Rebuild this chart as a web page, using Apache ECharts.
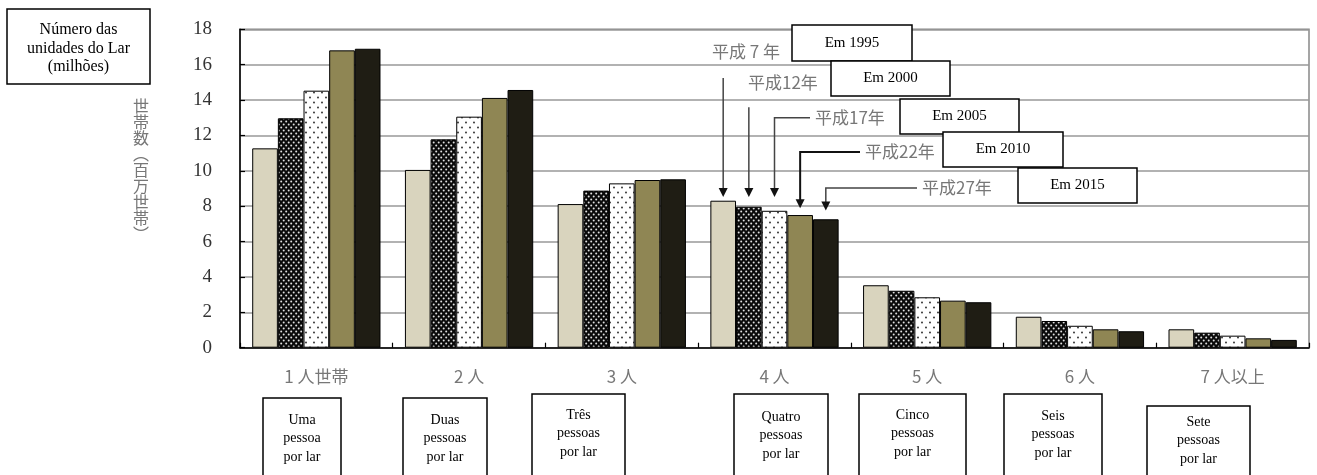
<!DOCTYPE html>
<html><head><meta charset="utf-8">
<script src="https://cdn.jsdelivr.net/npm/echarts@6/dist/echarts.min.js"></script>
<style>html,body{margin:0;padding:0;background:#fff}#c{width:1317px;height:475px}</style>
</head><body><div id="c"></div>
<script>
const categories = ['1 人世帯', '2 人', '3 人', '4 人', '5 人', '6 人', '7 人以上'];
const yearsJa = ['平成 7 年', '平成12年', '平成17年', '平成22年', '平成27年'];
const yearsPt = ['Em 1995', 'Em 2000', 'Em 2005', 'Em 2010', 'Em 2015'];
const h1995 = [11.27, 10.05, 8.12, 8.31, 3.53, 1.75, 1.04];
const h2000 = [12.97, 11.78, 8.88, 7.97, 3.22, 1.51, 0.85];
const h2005 = [14.53, 13.06, 9.29, 7.74, 2.85, 1.24, 0.68];
const h2010 = [16.81, 14.12, 9.48, 7.50, 2.66, 1.04, 0.53];
const h2015 = [16.90, 14.57, 9.52, 7.26, 2.57, 0.93, 0.44];
const yTicks = [0, 2, 4, 6, 8, 10, 12, 14, 16, 18];
const yName = '世帯数︵百万世帯︶';
const yNamePt = 'Número das\nunidades do Lar\n(milhões)';
const catLabelsPt = [
  'Uma\npessoa\npor lar', 'Duas\npessoas\npor lar', 'Três\npessoas\npor lar',
  'Quatro\npessoas\npor lar', 'Cinco\npessoas\npor lar', 'Seis\npessoas\npor lar',
  'Sete\npessoas\npor lar'
];
// annotation arrow tip / start levels (in data units, y-axis)
const arrowTip = [8.52, 8.52, 8.52, 7.88, 7.76];
const arrowStart = [15.25, 13.6, 13.0, 11.07, 9.03];

function pattern(bg, dot, w, h, pts, r) {
  const c = document.createElement('canvas');
  c.width = w; c.height = h;
  const g = c.getContext('2d');
  g.fillStyle = bg; g.fillRect(0, 0, w, h);
  g.fillStyle = dot;
  pts.forEach(p => { g.beginPath(); g.arc(p[0], p[1], r, 0, Math.PI * 2); g.fill(); });
  return c;
}
const patDense = pattern('#0a0a0a', '#e0e0e0', 5, 6, [[1.2, 1.5], [3.7, 4.5]], 1.0);
const patSparse = pattern('#ffffff', '#222222', 8, 10, [[2, 2.5], [6, 7.5]], 0.9);

const fills = [
  '#d9d4be',
  { image: patDense, repeat: 'repeat' },
  { image: patSparse, repeat: 'repeat' },
  '#8f8654',
  '#1f1d14'
];
const seriesData = [h1995, h2000, h2005, h2010, h2015];

const chart = echarts.init(document.getElementById('c'), null, { renderer: 'canvas' });
const GRID = { left: 240, top: 29.3, right: 8, bottom: 127.3 };
chart.setOption({
  animation: false,
  backgroundColor: '#fff',
  grid: Object.assign({ show: true, borderColor: '#888', borderWidth: 1.5, backgroundColor: 'transparent' }, GRID),
  xAxis: {
    type: 'category', data: categories,
    axisLine: { show: true, lineStyle: { color: '#000', width: 1.5 } },
    axisTick: { show: true, inside: true, length: 5, lineStyle: { color: '#000', width: 1.2 } },
    axisLabel: { margin: 20, color: '#777', fontSize: 17, fontFamily: 'Noto Sans CJK JP' },
    splitLine: { show: false }
  },
  yAxis: {
    type: 'value', min: yTicks[0], max: yTicks[yTicks.length - 1], interval: 2,
    axisLine: { show: true, lineStyle: { color: '#000', width: 1.5 } },
    axisTick: { show: true, inside: true, length: 5, lineStyle: { color: '#000', width: 1.2 } },
    axisLabel: { margin: 28, color: '#333', fontSize: 19, fontFamily: 'Liberation Serif' },
    splitLine: { show: true, lineStyle: { color: '#999', width: 1.5 } }
  },
  series: seriesData.map((d, i) => ({
    type: 'bar', name: yearsPt[i], data: d,
    barGap: '0%', barCategoryGap: '16%',
    itemStyle: { color: fills[i], borderColor: '#000', borderWidth: 1 },
    emphasis: { disabled: true }
  }))
});

// --- annotations ---
const cx3 = chart.convertToPixel({ xAxisIndex: 0 }, 3);
const cx4 = chart.convertToPixel({ xAxisIndex: 0 }, 4);
const band = cx4 - cx3;
const groupW = band * 0.84;
const barW = groupW / 5;
const barCenter = i => cx3 - groupW / 2 + barW * (i + 0.5);
const yPx = v => chart.convertToPixel({ yAxisIndex: 0 }, v);

const jaTextPos = [[712, 52], [748, 83], [815, 118], [865, 152], [922, 188]];
const ptBoxes = [[792, 25, 120, 36], [831, 61, 119, 35], [900, 99, 119, 35], [943, 132, 120, 35], [1018, 168, 119, 35]];
const bottomBoxes = [[263, 398, 78, 420], [403, 398, 84, 420], [532, 394, 93, 415], [734, 394, 94, 417], [859, 394, 107, 415], [1004, 394, 98, 416], [1147, 406, 103, 422]];
const serif = 'Liberation Serif';
const g = [];

// top-left box
g.push({ type: 'rect', shape: { x: 7, y: 9, width: 143, height: 75 }, style: { fill: '#fff', stroke: '#000', lineWidth: 1.5 }, z: 10 });
g.push({ type: 'text', x: 78.5, y: 48.5, style: { text: yNamePt, font: '16px "' + serif + '"', fill: '#000', textAlign: 'center', textVerticalAlign: 'middle', verticalAlign: 'middle', lineHeight: 18.5 }, z: 11 });
// vertical Japanese axis name
g.push({ type: 'text', x: 141, y: 98, style: { text: yName.split('').join('\n'), font: '16px "Noto Sans CJK JP"', fill: '#777', textAlign: 'center', textVerticalAlign: 'top', verticalAlign: 'top', lineHeight: 16 }, z: 11 });

for (let i = 0; i < 5; i++) {
  const x = barCenter(i);
  const tip = yPx(arrowTip[i]);
  const st = yPx(arrowStart[i]);
  const col = i === 3 ? '#111' : '#444';
  const lw = i === 3 ? 2 : 1.5;
  if (i >= 2) {
    g.push({ type: 'polyline', shape: { points: [[jaTextPos[i][0] - 5, st], [x, st], [x, tip - 8]] }, style: { stroke: col, lineWidth: lw, fill: null }, z: 10 });
  } else {
    g.push({ type: 'line', shape: { x1: x, y1: st, x2: x, y2: tip - 8 }, style: { stroke: col, lineWidth: lw }, z: 10 });
  }
  g.push({ type: 'polygon', shape: { points: [[x - 4.5, tip - 9], [x + 4.5, tip - 9], [x, tip]] }, style: { fill: '#111' }, z: 10 });
  g.push({ type: 'text', x: jaTextPos[i][0], y: jaTextPos[i][1], style: { text: yearsJa[i], font: '17px "Noto Sans CJK JP"', fill: '#777', textAlign: 'left', textVerticalAlign: 'middle', verticalAlign: 'middle' }, z: 11 });
  const b = ptBoxes[i];
  g.push({ type: 'rect', shape: { x: b[0], y: b[1], width: b[2], height: b[3] }, style: { fill: '#fff', stroke: '#000', lineWidth: 1.5 }, z: 12 + i });
  g.push({ type: 'text', x: b[0] + b[2] / 2, y: b[1] + b[3] / 2, style: { text: yearsPt[i], font: '15px "' + serif + '"', fill: '#000', textAlign: 'center', textVerticalAlign: 'middle', verticalAlign: 'middle' }, z: 12 + i });
}

bottomBoxes.forEach((b, i) => {
  g.push({ type: 'rect', shape: { x: b[0], y: b[1], width: b[2], height: 100 }, style: { fill: '#fff', stroke: '#000', lineWidth: 1.5 }, z: 10 });
  g.push({ type: 'text', x: b[0] + b[2] / 2, y: b[3] + 18.5, style: { text: catLabelsPt[i], font: '14px "' + serif + '"', fill: '#000', textAlign: 'center', textVerticalAlign: 'middle', verticalAlign: 'middle', lineHeight: 18.5 }, z: 11 });
});

chart.setOption({ graphic: { elements: g } });
</script></body></html>
